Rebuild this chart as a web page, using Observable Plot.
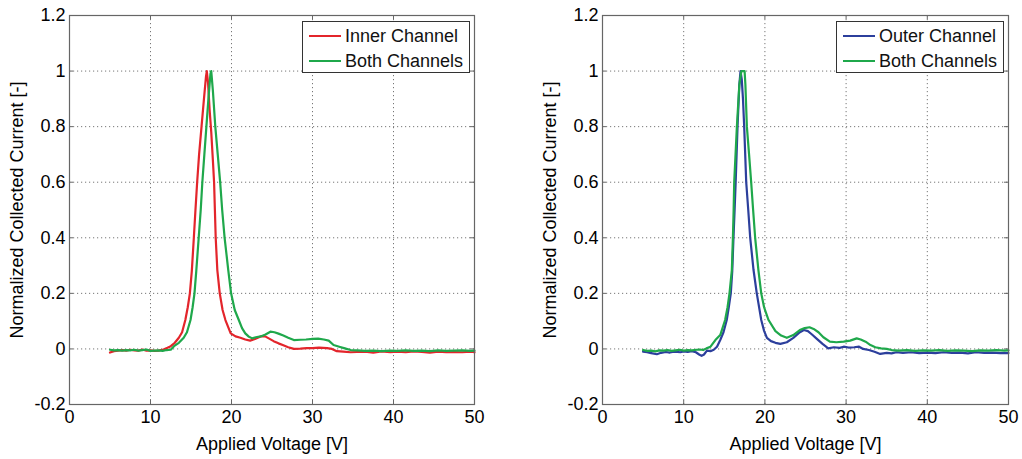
<!DOCTYPE html>
<html>
<head>
<meta charset="utf-8">
<script src="https://cdn.jsdelivr.net/npm/d3@7"></script>
<script src="https://cdn.jsdelivr.net/npm/@observablehq/plot@0.6"></script>
<style>
  html, body { margin: 0; padding: 0; background: #fff; }
  #wrap { position: relative; width: 1022px; height: 459px; overflow: hidden; font-family: "Liberation Sans", Arial, sans-serif; }
  .panel { position: absolute; top: 0; width: 511px; height: 459px; }
  .legend { position: absolute; border: 1px solid #333; background: #fff; box-sizing: border-box; font-size: 18px; color: #111; }
  .legend .row { position: absolute; left: 0; height: 20px; line-height: 20px; white-space: nowrap; }
  .legend .sw { position: absolute; left: 6px; top: 9px; width: 32px; height: 2px; }
  .legend .lbl { position: absolute; left: 42px; top: 0; }
</style>
</head>
<body>
<div id="wrap">
  <div class="panel" id="p1" style="left:0"></div>
  <div class="panel" id="p2" style="left:511px"></div>
</div>
<script>
// ---- data ----
const xTicks = [0, 10, 20, 30, 40, 50];
const yTicks = [-0.2, 0, 0.2, 0.4, 0.6, 0.8, 1, 1.2];
const xLabel = "Applied Voltage [V]";
const yLabel = "Normalized Collected Current [-]";

// [applied voltage, normalized current]
const innerChannel = [[5,-0.013],[5.5,-0.008],[6,-0.006],[6.5,-0.004],[7,-0.006],[7.5,-0.003],[8,-0.005],[8.5,-0.006],[9,-0.002],[9.5,-0.006],[10,-0.005],[10.5,-0.007],[11,-0.006],[11.6,-0.002],[12.1,0.004],[12.5,0.01],[13,0.022],[13.5,0.04],[13.9,0.06],[14.3,0.104],[14.6,0.15],[14.86,0.2],[15.1,0.28],[15.35,0.4],[15.55,0.5],[15.76,0.6],[16.0,0.7],[16.3,0.8],[16.6,0.9],[16.85,0.98],[16.95,1.0],[17.1,0.96],[17.3,0.86],[17.5,0.78],[17.7,0.68],[17.85,0.6],[17.95,0.5],[18.05,0.4],[18.25,0.284],[18.55,0.2],[18.9,0.14],[19.25,0.104],[19.9,0.056],[20.5,0.045],[21.1,0.04],[21.7,0.034],[22.3,0.03],[22.9,0.036],[23.6,0.045],[24.1,0.046],[24.6,0.038],[25.2,0.028],[25.8,0.02],[26.4,0.013],[27,0.006],[27.7,0.0],[28.5,0.001],[29.3,0.003],[30,0.003],[30.8,0.005],[31.8,0.003],[32.4,0.0],[33,-0.008],[33.8,-0.01],[34.7,-0.012],[35.5,-0.011],[36.5,-0.01],[37.5,-0.013],[38.5,-0.009],[39.6,-0.012],[40.5,-0.01],[41.5,-0.012],[42.5,-0.009],[43.5,-0.011],[44.5,-0.013],[45.5,-0.01],[46.5,-0.012],[47.5,-0.011],[48.5,-0.012],[49.5,-0.01],[50,-0.012]];

const bothChannelsLeft = [[5,-0.003],[5.5,-0.005],[6,-0.004],[6.5,-0.006],[7,-0.004],[7.5,-0.005],[8,-0.003],[8.5,-0.006],[9,-0.004],[9.5,-0.002],[10,-0.007],[10.5,-0.006],[11,-0.005],[11.5,-0.007],[12,-0.004],[12.5,-0.003],[12.9,0.01],[13.5,0.022],[14.1,0.04],[14.5,0.06],[14.94,0.104],[15.2,0.15],[15.43,0.2],[15.65,0.28],[15.95,0.4],[16.2,0.5],[16.4,0.6],[16.65,0.7],[16.9,0.8],[17.15,0.9],[17.4,0.99],[17.5,1.0],[17.7,0.93],[18.0,0.8],[18.3,0.7],[18.6,0.6],[18.85,0.5],[19.15,0.4],[19.6,0.284],[19.95,0.2],[20.4,0.14],[20.9,0.104],[21.3,0.075],[21.7,0.056],[22.1,0.045],[22.55,0.038],[23,0.042],[23.6,0.045],[24.2,0.052],[24.8,0.062],[25.3,0.06],[25.8,0.055],[26.4,0.048],[27,0.04],[27.7,0.032],[28.5,0.033],[29.2,0.034],[30,0.036],[30.7,0.037],[31.4,0.034],[32,0.03],[32.6,0.014],[33.3,0.008],[34,0.002],[34.7,-0.004],[35.5,-0.005],[36.5,-0.007],[37.5,-0.006],[38.5,-0.008],[39.6,-0.006],[40.5,-0.007],[41.5,-0.005],[42.5,-0.007],[43.5,-0.006],[44.5,-0.008],[45.5,-0.005],[46.5,-0.007],[47.5,-0.006],[48.5,-0.005],[49.5,-0.007],[50,-0.006]];

const outerChannel = [[5,-0.01],[5.5,-0.012],[6,-0.015],[6.7,-0.019],[7.2,-0.014],[7.8,-0.011],[8.3,-0.013],[8.8,-0.01],[9.6,-0.012],[10,-0.009],[10.5,-0.011],[11,-0.008],[11.5,-0.012],[11.9,-0.02],[12.2,-0.025],[12.5,-0.02],[12.86,-0.006],[13.3,-0.008],[13.7,-0.003],[14.1,0.008],[14.5,0.032],[14.9,0.06],[15.3,0.104],[15.55,0.15],[15.8,0.2],[15.98,0.28],[16.13,0.4],[16.27,0.5],[16.4,0.6],[16.63,0.8],[16.85,0.95],[17.0,1.0],[17.15,0.97],[17.3,0.9],[17.45,0.8],[17.7,0.6],[17.95,0.5],[18.19,0.4],[18.6,0.284],[19.0,0.2],[19.55,0.104],[19.9,0.065],[20.25,0.04],[20.75,0.028],[21.3,0.022],[21.9,0.018],[22.7,0.024],[23.5,0.04],[24.2,0.058],[24.8,0.068],[25.3,0.064],[25.8,0.052],[26.4,0.036],[27.1,0.018],[27.8,0.002],[28.5,0.006],[29.2,0.004],[29.7,0.008],[30.3,0.005],[31,0.006],[31.6,0.008],[32.1,0.0],[32.8,-0.004],[33.5,-0.01],[34.2,-0.018],[35,-0.014],[35.6,-0.016],[36.2,-0.012],[37,-0.014],[38,-0.012],[39,-0.015],[40,-0.013],[41,-0.015],[42,-0.012],[43,-0.014],[44,-0.013],[45,-0.016],[46,-0.012],[47,-0.014],[48,-0.013],[49,-0.015],[50,-0.015]];

const bothChannelsRight = [[5,-0.004],[5.5,-0.007],[6,-0.006],[6.5,-0.009],[7,-0.005],[7.5,-0.006],[8,-0.004],[8.5,-0.007],[9,-0.005],[9.5,-0.003],[10,-0.006],[10.5,-0.004],[11,-0.005],[11.6,-0.003],[12,-0.002],[12.4,-0.004],[12.8,0.002],[13.3,0.008],[13.9,0.032],[14.5,0.05],[15.1,0.104],[15.4,0.15],[15.64,0.2],[15.93,0.284],[16.06,0.4],[16.15,0.5],[16.22,0.6],[16.55,0.8],[16.85,0.95],[17.1,1.0],[17.5,1.0],[17.6,0.95],[17.78,0.8],[18.05,0.7],[18.31,0.6],[18.55,0.5],[18.8,0.4],[19.2,0.284],[19.55,0.2],[19.9,0.15],[20.45,0.104],[21.3,0.064],[22,0.048],[22.7,0.04],[23.5,0.05],[24.3,0.068],[24.9,0.075],[25.5,0.078],[26,0.072],[26.6,0.06],[27.2,0.042],[28,0.026],[28.8,0.024],[29.7,0.026],[30.5,0.03],[31.3,0.038],[31.8,0.034],[32.4,0.026],[33,0.014],[33.6,0.006],[34.3,0.002],[35,0.0],[35.6,-0.004],[36.5,-0.006],[37.5,-0.004],[38.5,-0.007],[39.5,-0.005],[40.5,-0.006],[41.5,-0.004],[42.5,-0.007],[43.5,-0.005],[44.5,-0.006],[45.5,-0.008],[46.5,-0.005],[47.5,-0.006],[48.5,-0.004],[49.5,-0.006],[50,-0.005]];

const RED = "#e3252b", GREEN = "#1fa84b", BLUE = "#2c3f9c";

const panels = [
  {id: "p1", marginLeft: 69, marginRight: 37,
   series: [{name: "Inner Channel", data: innerChannel, color: RED}, {name: "Both Channels", data: bothChannelsLeft, color: GREEN}],
   legend: {left: 302, top: 21, width: 168, height: 52}},
  {id: "p2", marginLeft: 91, marginRight: 14,
   series: [{name: "Outer Channel", data: outerChannel, color: BLUE}, {name: "Both Channels", data: bothChannelsRight, color: GREEN}],
   legend: {left: 325, top: 21, width: 168, height: 52}}
];

const fmt = d => String(+d.toFixed(1));
const W = 511, H = 459, MT = 15, MB = 55;

for (const p of panels) {
  const innerW = W - p.marginLeft - p.marginRight;
  const innerH = H - MT - MB;
  const chart = Plot.plot({
    width: W, height: H,
    marginLeft: p.marginLeft, marginRight: p.marginRight, marginTop: MT, marginBottom: MB,
    style: {fontFamily: "'Liberation Sans', Arial, sans-serif", fontSize: "18px", color: "#000", background: "#fff", overflow: "visible"},
    x: {domain: [0, 50]},
    y: {domain: [-0.2, 1.2]},
    marks: [
      Plot.gridX(xTicks.slice(1, -1), {stroke: "#777", strokeOpacity: 1, strokeWidth: 1, strokeDasharray: "1.2,2.8"}),
      Plot.gridY(yTicks.slice(1, -1), {stroke: "#777", strokeOpacity: 1, strokeWidth: 1, strokeDasharray: "1.2,2.8"}),
      // inward ticks (MATLAB style)
      Plot.tickX(xTicks, {x: d => d, stroke: "#666", insetTop: innerH - 4}),
      Plot.tickX(xTicks, {x: d => d, stroke: "#666", insetBottom: innerH - 4}),
      Plot.tickY(yTicks, {y: d => d, stroke: "#666", insetRight: innerW - 4}),
      Plot.tickY(yTicks, {y: d => d, stroke: "#666", insetLeft: innerW - 4}),
      ...p.series.map(s => Plot.line(s.data, {x: d => d[0], y: d => d[1], stroke: s.color, strokeWidth: 2.2, strokeLinejoin: "round"})),
      Plot.frame({stroke: "#666", strokeWidth: 1.2}),
      Plot.axisX(xTicks, {tickSize: 0, tickPadding: 6, tickFormat: fmt, label: xLabel, labelAnchor: "center", labelArrow: "none", labelOffset: 45}),
      Plot.axisY(yTicks, {tickSize: 0, tickPadding: 4, tickFormat: fmt, label: yLabel, labelAnchor: "center", labelArrow: "none", labelOffset: 59})
    ]
  });
  const host = document.getElementById(p.id);
  host.appendChild(chart);
  // legend box
  const lg = document.createElement("div");
  lg.className = "legend";
  Object.assign(lg.style, {left: p.legend.left + "px", top: p.legend.top + "px", width: p.legend.width + "px", height: p.legend.height + "px"});
  p.series.forEach((s, i) => {
    const row = document.createElement("div");
    row.className = "row";
    row.style.top = (4 + i * 25) + "px";
    const sw = document.createElement("div");
    sw.className = "sw";
    sw.style.background = s.color;
    const lb = document.createElement("div");
    lb.className = "lbl";
    lb.textContent = s.name;
    row.appendChild(sw); row.appendChild(lb);
    lg.appendChild(row);
  });
  host.appendChild(lg);
}
</script>
</body>
</html>
